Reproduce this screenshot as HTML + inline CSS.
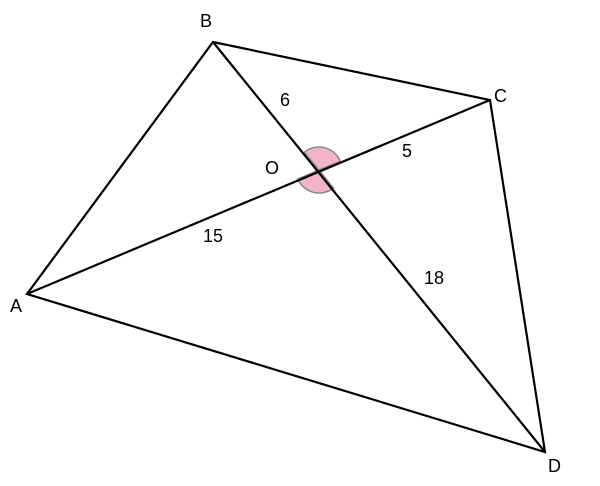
<!DOCTYPE html>
<html><head><style>body{margin:0;background:#fff}</style></head><body>
<svg width="600" height="481" viewBox="0 0 600 481" xmlns="http://www.w3.org/2000/svg">
<path d="M319,170 L304.3,152.3 A23,23 0 0 1 340.3,161.3 Z" fill="#f4b3c8" stroke="#888" stroke-width="1.5"/>
<path d="M319,170 L297.8,179 A23,23 0 0 0 333.4,188 Z" fill="#f4b3c8" stroke="#888" stroke-width="1.5"/>
<g stroke="#000" stroke-width="2.2" fill="none">
<polygon points="213,42 490,100 545,452 27,294"/>
<line x1="213" y1="42" x2="545" y2="452"/>
<line x1="27" y1="294" x2="490" y2="100"/>
</g>
<g font-family="Liberation Sans, sans-serif" font-size="18" fill="#000">
<text x="200" y="27">B</text>
<text x="494" y="102">C</text>
<text x="10" y="312">A</text>
<text x="548" y="472">D</text>
<text x="265" y="174">O</text>
<text x="280" y="106">6</text>
<text x="402" y="157">5</text>
<text x="203" y="242">15</text>
<text x="424" y="284">18</text>
</g>
</svg>
</body></html>
